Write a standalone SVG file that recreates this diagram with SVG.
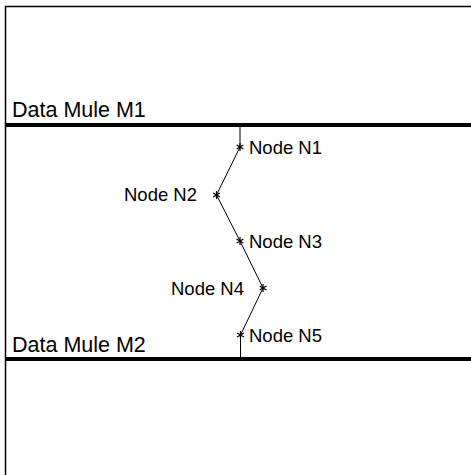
<svg xmlns="http://www.w3.org/2000/svg" width="471" height="475" viewBox="0 0 471 475">
<style>
.lbl{font-family:"Liberation Sans",Arial,sans-serif;fill:#000}
.mule{font-size:21.5px}
.node{font-size:18.5px}
.bus{stroke:#000;stroke-width:4;fill:none}
.link{stroke:#000;stroke-width:1;fill:none}
</style>
<defs>
<marker id="star" viewBox="-5 -5 10 10" markerWidth="10" markerHeight="10" refX="0" refY="0" markerUnits="userSpaceOnUse" orient="0">
<path d="M0,-4V4M-3.4,-2L3.4,2M-3.4,2L3.4,-2" stroke="#000" stroke-width="1.2" fill="none"/>
</marker>
</defs>
<rect width="471" height="475" fill="#fff"/>
<path d="M5.5,475V6.5H471" stroke="#000" stroke-width="1.5" fill="none"/>
<g id="mule-m1">
<line class="bus" x1="5" y1="125" x2="471" y2="125"/>
<text class="lbl mule" x="12" y="117">Data Mule M1</text>
</g>
<g id="mule-m2">
<line class="bus" x1="5" y1="359" x2="471" y2="359"/>
<text class="lbl mule" x="12" y="352">Data Mule M2</text>
</g>
<g id="connectors">
<polyline class="link" points="240,125 240,147 216.5,195 240,241 263,288 240.5,335 240.5,359" marker-mid="url(#star)"/>
</g>
<g id="node-n1"><text class="lbl node" x="249" y="154">Node N1</text></g>
<g id="node-n2"><text class="lbl node" x="197" y="201" text-anchor="end">Node N2</text></g>
<g id="node-n3"><text class="lbl node" x="249" y="248">Node N3</text></g>
<g id="node-n4"><text class="lbl node" x="244" y="295" text-anchor="end">Node N4</text></g>
<g id="node-n5"><text class="lbl node" x="249" y="342">Node N5</text></g>
</svg>
